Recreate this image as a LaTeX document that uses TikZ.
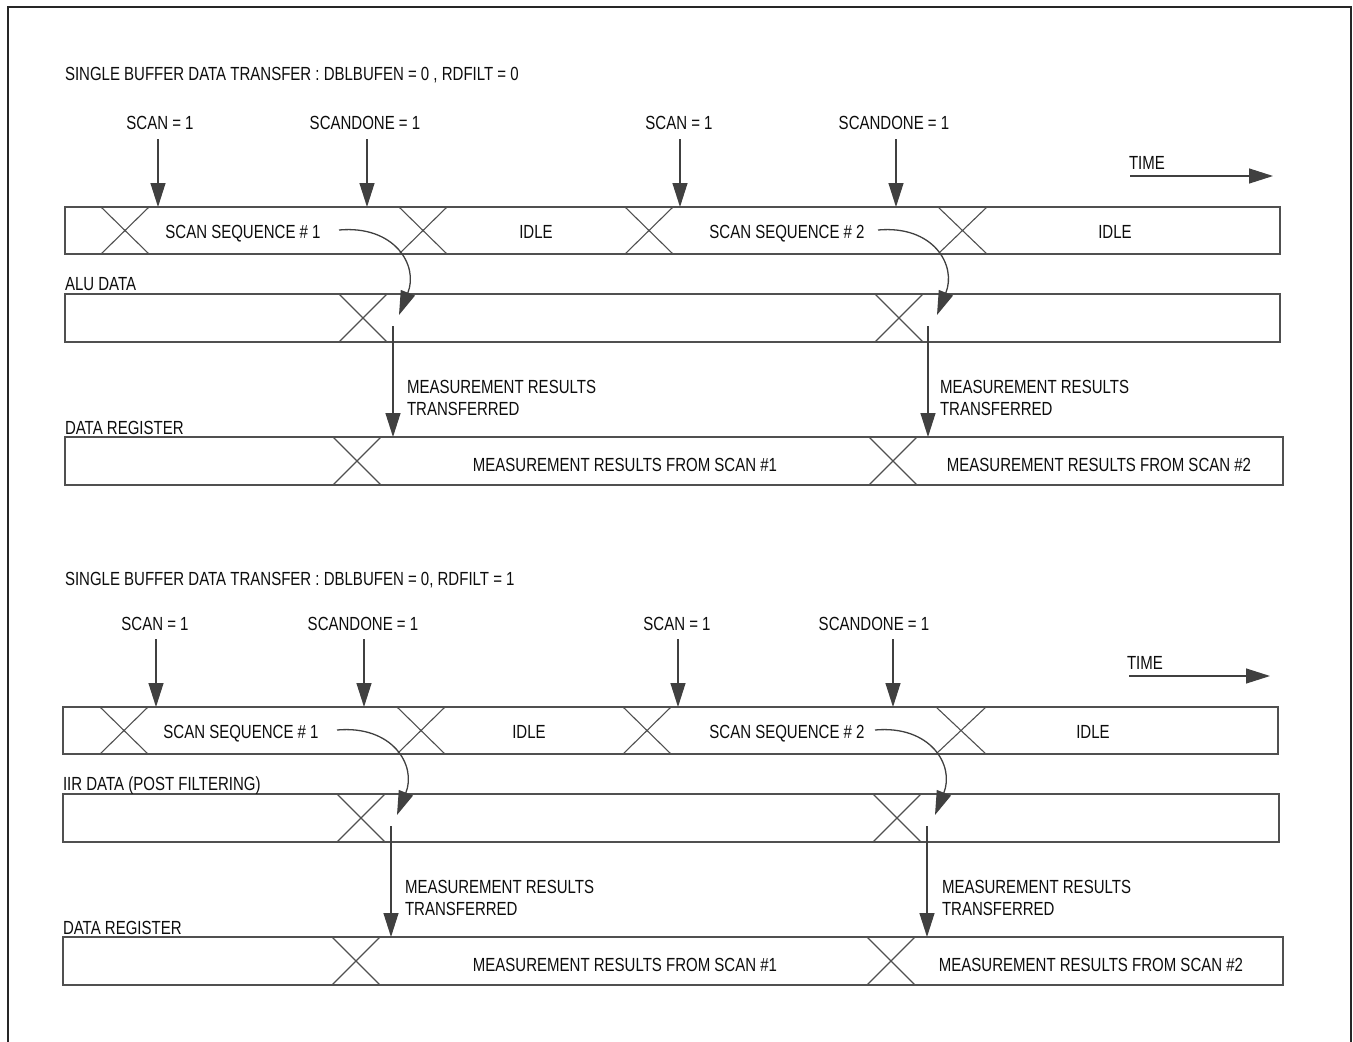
\documentclass[tikz,border=0pt]{standalone}
\usepackage{fontspec}
\setmainfont{Liberation Sans}[FakeStretch=0.79]
\usetikzlibrary{arrows.meta}
\definecolor{lc}{HTML}{404040}
\definecolor{bc}{HTML}{505050}
\definecolor{tc}{HTML}{0D0D0D}
\newcommand\xcross[4]{\draw[xing] (#1,#3) -- (#2,#4) (#1,#4) -- (#2,#3);}
\begin{document}
\begin{tikzpicture}[x=1pt,y=-1pt,
  lbl/.style={inner sep=0pt, outer sep=0pt, anchor=base, text=tc, font=\fontsize{19}{23}\selectfont},
  lbll/.style={lbl, anchor=base west},
  lane/.style={draw=bc, line width=1.3pt, inner sep=0pt, outer sep=0pt, anchor=north west},
  xing/.style={draw=bc, line width=1.1pt},
  sig/.style={draw=lc, line width=1.3pt, -{Triangle[length=24pt,width=15pt]}},
  frame/.style={draw=black!85, line width=2pt}]
\useasboundingbox (0,0) rectangle (1353,1042);
\draw[frame] (8,1042) -- (8,7) -- (1351,7) -- (1351,1042);

% ================= UPPER SECTION =================
\node[lbll] (ttl1) at (65,80) {SINGLE BUFFER DATA TRANSFER : DBLBUFEN = 0 , RDFILT = 0};
\node[lbl] (ua) at (160,129) {SCAN = 1};
\node[lbl] (ub) at (365,129) {SCANDONE = 1};
\node[lbl] (uc) at (679,129) {SCAN = 1};
\node[lbl] (ud) at (894,129) {SCANDONE = 1};
\node[lbll] (utime) at (1129,169) {TIME};

\node[lane, minimum width=1215pt, minimum height=47pt] (r1) at (65,207) {};
\node[lane, minimum width=1215pt, minimum height=48pt] (r2) at (65,294) {};
\node[lane, minimum width=1218pt, minimum height=48pt] (r3) at (65,437) {};

\xcross{101}{149}{207}{254}
\xcross{399}{447}{207}{254}
\xcross{625}{673}{207}{254}
\xcross{938}{987}{207}{254}
\xcross{339}{387}{294}{342}
\xcross{875}{923}{294}{342}
\xcross{333}{381}{437}{485}
\xcross{869}{917}{437}{485}

\coordinate (uas) at (158,139);
\coordinate (ubs) at (367,139);
\coordinate (ucs) at (680,139);
\coordinate (uds) at (896,139);
\draw[sig] (uas) -- (uas |- r1.north);
\draw[sig] (ubs) -- (ubs |- r1.north);
\draw[sig] (ucs) -- (ucs |- r1.north);
\draw[sig] (uds) -- (uds |- r1.north);
\coordinate (uts) at (1130,176);
\coordinate (ute) at (1273,176);
\draw[sig] (uts) -- (ute);

\node[lbl] (useq1) at (243,238) {SCAN SEQUENCE \# 1};
\node[lbl] (uidle1) at (536,238) {IDLE};
\node[lbl] (useq2) at (787,238) {SCAN SEQUENCE \# 2};
\node[lbl] (uidle2) at (1115,238) {IDLE};
\node[lbll] (ualu) at (65,290) {ALU DATA};
\node[lbll] (umr1a) at (407,393) {MEASUREMENT RESULTS};
\node[lbll] (umr1b) at (407,415) {TRANSFERRED};
\node[lbll] (umr2a) at (940,393) {MEASUREMENT RESULTS};
\node[lbll] (umr2b) at (940,415) {TRANSFERRED};
\node[lbll] (udr) at (65,434) {DATA REGISTER};
\node[lbl] (ufs1) at (625,471) {MEASUREMENT RESULTS FROM SCAN \#1};
\node[lbl] (ufs2) at (1099,471) {MEASUREMENT RESULTS FROM SCAN \#2};

\coordinate (uc1s) at (339,230);
\coordinate (uc1e) at (399,315);
\draw[sig] (uc1s) .. controls +(55,-5) and +(20,-50) .. (uc1e);
\coordinate (uc2s) at (878,230);
\coordinate (uc2e) at (937,315);
\draw[sig] (uc2s) .. controls +(55,-5) and +(20,-50) .. (uc2e);
\coordinate (um1s) at (393,326);
\draw[sig] (um1s) -- (um1s |- r3.north);
\coordinate (um2s) at (928,326);
\draw[sig] (um2s) -- (um2s |- r3.north);

% ================= LOWER SECTION =================
\node[lbll] (ttl2) at (65,585) {SINGLE BUFFER DATA TRANSFER : DBLBUFEN = 0, RDFILT = 1};
\node[lbl] (la) at (155,630) {SCAN = 1};
\node[lbl] (lb) at (363,630) {SCANDONE = 1};
\node[lbl] (lc) at (677,630) {SCAN = 1};
\node[lbl] (ld) at (874,630) {SCANDONE = 1};
\node[lbll] (ltime) at (1127,669) {TIME};

\node[lane, minimum width=1215pt, minimum height=47pt] (q1) at (63,707) {};
\node[lane, minimum width=1216pt, minimum height=48pt] (q2) at (63,794) {};
\node[lane, minimum width=1220pt, minimum height=48pt] (q3) at (63,937) {};

\xcross{100}{148}{707}{754}
\xcross{397}{445}{707}{754}
\xcross{623}{671}{707}{754}
\xcross{936}{986}{707}{754}
\xcross{337}{385}{794}{842}
\xcross{873}{921}{794}{842}
\xcross{332}{380}{937}{985}
\xcross{867}{915}{937}{985}

\coordinate (las) at (156,639);
\coordinate (lbs) at (364,639);
\coordinate (lcs) at (678,639);
\coordinate (lds) at (893,639);
\draw[sig] (las) -- (las |- q1.north);
\draw[sig] (lbs) -- (lbs |- q1.north);
\draw[sig] (lcs) -- (lcs |- q1.north);
\draw[sig] (lds) -- (lds |- q1.north);
\coordinate (lts) at (1129,676);
\coordinate (lte) at (1270,676);
\draw[sig] (lts) -- (lte);

\node[lbl] (lseq1) at (241,738) {SCAN SEQUENCE \# 1};
\node[lbl] (lidle1) at (529,738) {IDLE};
\node[lbl] (lseq2) at (787,738) {SCAN SEQUENCE \# 2};
\node[lbl] (lidle2) at (1093,738) {IDLE};
\node[lbll] (liir) at (63,790) {IIR DATA (POST FILTERING)};
\node[lbll] (lmr1a) at (405,893) {MEASUREMENT RESULTS};
\node[lbll] (lmr1b) at (405,915) {TRANSFERRED};
\node[lbll] (lmr2a) at (942,893) {MEASUREMENT RESULTS};
\node[lbll] (lmr2b) at (942,915) {TRANSFERRED};
\node[lbll] (ldr) at (63,934) {DATA REGISTER};
\node[lbl] (lfs1) at (625,971) {MEASUREMENT RESULTS FROM SCAN \#1};
\node[lbl] (lfs2) at (1091,971) {MEASUREMENT RESULTS FROM SCAN \#2};

\coordinate (lc1s) at (337,730);
\coordinate (lc1e) at (397,815);
\draw[sig] (lc1s) .. controls +(55,-5) and +(20,-50) .. (lc1e);
\coordinate (lc2s) at (875,730);
\coordinate (lc2e) at (935,815);
\draw[sig] (lc2s) .. controls +(55,-5) and +(20,-50) .. (lc2e);
\coordinate (lm1s) at (391,826);
\draw[sig] (lm1s) -- (lm1s |- q3.north);
\coordinate (lm2s) at (927,826);
\draw[sig] (lm2s) -- (lm2s |- q3.north);
\end{tikzpicture}
\end{document}
